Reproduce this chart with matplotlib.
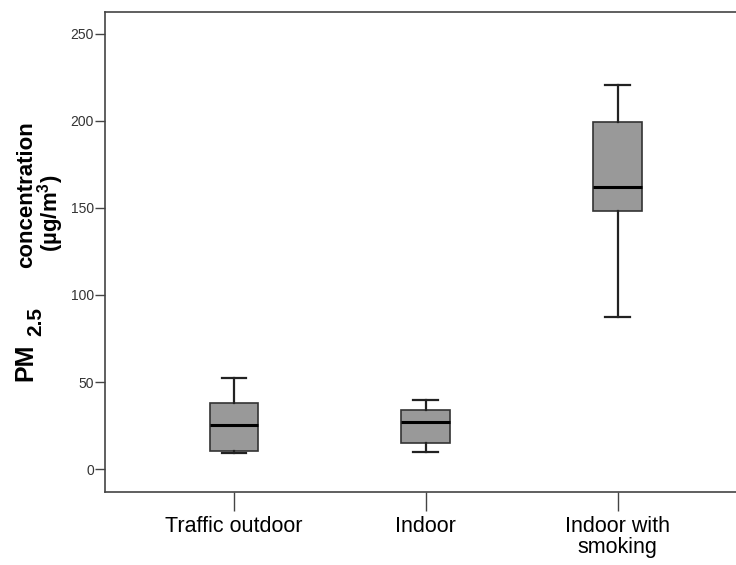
import matplotlib
matplotlib.use("Agg")
import matplotlib.pyplot as plt

plt.rcParams['font.family'] = ['Liberation Sans', 'DejaVu Sans']
plt.rcParams['mathtext.fontset'] = 'custom'
plt.rcParams['mathtext.bf'] = 'Liberation Sans:bold'
plt.rcParams['mathtext.rm'] = 'Liberation Sans'

# box summary (ug/m3)
groups = ['Traffic outdoor', 'Indoor', 'Indoor with\nsmoking']
whislo = [9.0, 9.6, 87.5]
q1 = [10.5, 14.7, 148.5]
med = [25.5, 26.8, 162.0]
q3 = [37.8, 34.0, 199.5]
whishi = [52.5, 39.5, 220.5]

yticks = [0, 50, 100, 150, 200, 250]

stats = []
for i in range(len(groups)):
    stats.append({'label': groups[i], 'whislo': whislo[i], 'q1': q1[i],
                  'med': med[i], 'q3': q3[i], 'whishi': whishi[i], 'fliers': []})

W, H = 736, 565
fig = plt.figure(figsize=(W / 100, H / 100), dpi=100)
ax = fig.add_axes([0.1427, 0.1292, 0.872, 0.8496])

ax.bxp(stats, positions=[1, 2, 3], widths=0.255, capwidths=0.13,
       patch_artist=True, showfliers=False,
       boxprops=dict(facecolor='#999999', edgecolor='#333333', linewidth=1.2),
       medianprops=dict(color='black', linewidth=2.2),
       whiskerprops=dict(color='#222222', linewidth=1.6),
       capprops=dict(color='#222222', linewidth=1.6))

ax.set_xlim(0.328, 3.672)
ax.set_ylim(-13.2, 262.6)
ax.set_yticks(yticks)
ax.set_yticklabels([str(t) for t in yticks], fontsize=10, color='#333333')
ax.set_xticks([1, 2, 3])
ax.set_xticklabels(groups, fontsize=15.5, color='black', linespacing=1.05)
ax.tick_params(axis='y', length=7, width=1, color='#444444', pad=1)
ax.tick_params(axis='x', length=14, width=1, color='#444444', pad=3)
for s in ax.spines.values():
    s.set_color('#444444')
    s.set_linewidth(1.2)

# y label pieces (x = baseline position in pixels, y = centre in pixels from top)
lab = dict(rotation=90, rotation_mode='anchor', ha='center', va='baseline',
           fontweight='bold')
fig.text(32 / W, 1 - 362 / H, 'PM', fontsize=18, **lab)
fig.text(41 / W, 1 - 322 / H, '2.5', fontsize=15, **lab)
fig.text(32 / W, 1 - 195 / H, 'concentration', fontsize=16, **lab)
fig.text(57 / W, 1 - 213 / H, '(\u00b5g/m$\\mathbf{^3}$)', fontsize=16, **lab)

fig.savefig('out.png', dpi=100)
